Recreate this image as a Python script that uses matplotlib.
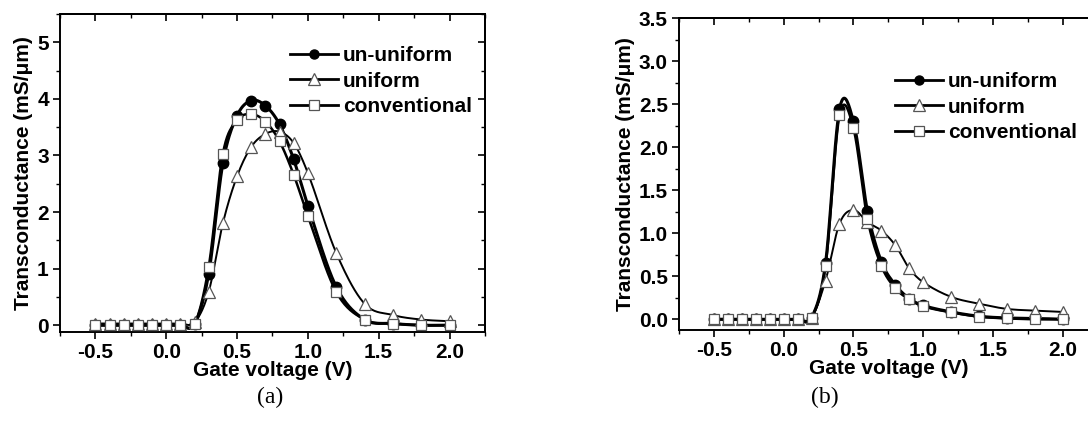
import numpy as np
import matplotlib
matplotlib.use("Agg")
import matplotlib.pyplot as plt
from matplotlib.lines import Line2D
from matplotlib.ticker import MultipleLocator

plt.rcParams['font.family'] = ['Liberation Sans', 'DejaVu Sans']
plt.rcParams['font.weight'] = 'bold'

# gate voltage sample points (V), same for every series
vg = [-0.5, -0.4, -0.3, -0.2, -0.1, 0.0, 0.1, 0.2, 0.3, 0.4, 0.5, 0.6,
      0.7, 0.8, 0.9, 1.0, 1.2, 1.4, 1.6, 1.8, 2.0]

# panel (a) transconductance (mS/um)
a_ununiform = [0, 0, 0, 0, 0, 0, 0, 0.02, 0.91, 2.86, 3.70, 3.97,
               3.88, 3.55, 2.93, 2.11, 0.68, 0.10, 0.03, 0.0, 0.0]
a_uniform = [0.03, 0.03, 0.03, 0.03, 0.03, 0.03, 0.03, 0.05, 0.59, 1.80, 2.63, 3.15,
             3.38, 3.42, 3.22, 2.69, 1.28, 0.38, 0.18, 0.10, 0.07]
a_conventional = [0, 0, 0, 0, 0, 0, 0, 0.02, 1.03, 3.03, 3.62, 3.73,
                  3.60, 3.25, 2.66, 1.93, 0.59, 0.10, 0.03, 0.0, 0.0]

# panel (b)
b_ununiform = [0, 0, 0, 0, 0, 0, 0, 0.02, 0.65, 2.44, 2.30, 1.26,
               0.67, 0.40, 0.24, 0.16, 0.085, 0.035, 0.015, 0.01, 0.0]
b_uniform = [0, 0, 0, 0, 0, 0, 0, 0.02, 0.45, 1.11, 1.27, 1.13,
             1.03, 0.86, 0.59, 0.43, 0.26, 0.18, 0.12, 0.10, 0.085]
b_conventional = [0, 0, 0, 0, 0, 0, 0, 0.02, 0.62, 2.37, 2.22, 1.17,
                  0.62, 0.36, 0.23, 0.15, 0.08, 0.03, 0.01, 0.0, 0.0]

labels = ["un-uniform", "uniform", "conventional"]

FS = 15


def smooth(x, y, n=20):
    """cubic hermite through the points (finite-difference tangents), like Origin's spline line"""
    x = np.asarray(x, float)
    y = np.asarray(y, float)
    m = np.zeros_like(y)
    m[1:-1] = (y[2:] - y[:-2]) / (x[2:] - x[:-2])
    m[0] = (y[1] - y[0]) / (x[1] - x[0])
    m[-1] = (y[-1] - y[-2]) / (x[-1] - x[-2])
    xs, ys = [], []
    for i in range(len(x) - 1):
        h = x[i + 1] - x[i]
        t = np.linspace(0, 1, n, endpoint=False)
        h00 = 2 * t**3 - 3 * t**2 + 1
        h10 = t**3 - 2 * t**2 + t
        h01 = -2 * t**3 + 3 * t**2
        h11 = t**3 - t**2
        xs.append(x[i] + t * h)
        ys.append(h00 * y[i] + h10 * h * m[i] + h01 * y[i + 1] + h11 * h * m[i + 1])
    xs.append([x[-1]])
    ys.append([y[-1]])
    return np.concatenate(xs), np.concatenate(ys)


styles = [
    dict(lw=2.2, marker='o', ms=7.5, mfc='k', mec='k', mew=1.0),
    dict(lw=1.4, marker='^', ms=9, mfc='white', mec='#555555', mew=0.9),
    dict(lw=1.8, marker='s', ms=7.5, mfc='white', mec='#555555', mew=0.9),
]


def draw_panel(ax, series, ylim, ymajor, yminor, yfmt, leg_anchor):
    for ys, st in zip(series, styles):
        sx, sy = smooth(vg, ys)
        ax.plot(sx, sy, color='k', lw=st['lw'], zorder=2)
    for ys, st in zip(series, styles):
        ax.plot(vg, ys, ls='none', marker=st['marker'], ms=st['ms'],
                mfc=st['mfc'], mec=st['mec'], mew=st['mew'], zorder=3)

    ax.set_xlim(-0.75, 2.25)
    ax.set_ylim(*ylim)
    ax.xaxis.set_major_locator(MultipleLocator(0.5))
    ax.xaxis.set_minor_locator(MultipleLocator(0.25))
    ax.yaxis.set_major_locator(MultipleLocator(ymajor))
    ax.yaxis.set_minor_locator(MultipleLocator(yminor))
    ax.xaxis.set_major_formatter(lambda v, p: f"{v:.1f}")
    ax.yaxis.set_major_formatter(lambda v, p: yfmt.format(v))
    ax.tick_params(which='major', direction='out', length=5, width=1.2, labelsize=FS, pad=3)
    ax.tick_params(which='minor', direction='out', length=3, width=1.0)
    for s in ax.spines.values():
        s.set_linewidth(1.4)

    # inward ticks on the top and right frame
    top = ax.secondary_xaxis('top')
    top.xaxis.set_major_locator(MultipleLocator(0.5))
    top.xaxis.set_minor_locator(MultipleLocator(0.25))
    top.tick_params(which='major', direction='in', length=5, width=1.2, labeltop=False)
    top.tick_params(which='minor', direction='in', length=3, width=1.0)
    right = ax.secondary_yaxis('right')
    right.yaxis.set_major_locator(MultipleLocator(ymajor))
    right.yaxis.set_minor_locator(MultipleLocator(yminor))
    right.tick_params(which='major', direction='in', length=5, width=1.2, labelright=False)
    right.tick_params(which='minor', direction='in', length=3, width=1.0)
    for s in list(top.spines.values()) + list(right.spines.values()):
        s.set_linewidth(1.4)

    ax.set_xlabel("Gate voltage (V)", fontsize=FS, fontweight='bold', labelpad=-1)
    ax.set_ylabel("Transconductance (mS/\u03bcm)", fontsize=FS, fontweight='bold', labelpad=3)

    handles = [Line2D([], [], color='k', lw=2.0, marker=st['marker'], ms=st['ms'] - 1,
                      mfc=st['mfc'], mec=st['mec'], mew=st['mew']) for st in styles]
    ax.legend(handles, labels, loc='upper left', bbox_to_anchor=leg_anchor, frameon=False,
              handlelength=2.3, handletextpad=0.25, labelspacing=0.31,
              borderaxespad=0, borderpad=0,
              prop={'weight': 'bold', 'size': FS})


fig = plt.figure(figsize=(10.88, 4.22), dpi=100)
ax1 = fig.add_axes([0.0551, 0.2133, 0.3906, 0.7535])
ax2 = fig.add_axes([0.624, 0.218, 0.385, 0.739])

draw_panel(ax1, [a_ununiform, a_uniform, a_conventional], (-0.12, 5.5), 1, 0.5, "{:.0f}", (0.541, 0.899))
draw_panel(ax2, [b_ununiform, b_uniform, b_conventional], (-0.125, 3.5), 0.5, 0.25, "{:.1f}", (0.515, 0.827))

fig.text(270 / 1088, 1 - 397 / 422, "(a)", family='Liberation Serif', fontweight='normal',
         fontsize=17, ha='center', va='center')
fig.text(825 / 1088, 1 - 397 / 422, "(b)", family='Liberation Serif', fontweight='normal',
         fontsize=17, ha='center', va='center')

fig.savefig("out.png", dpi=100)
